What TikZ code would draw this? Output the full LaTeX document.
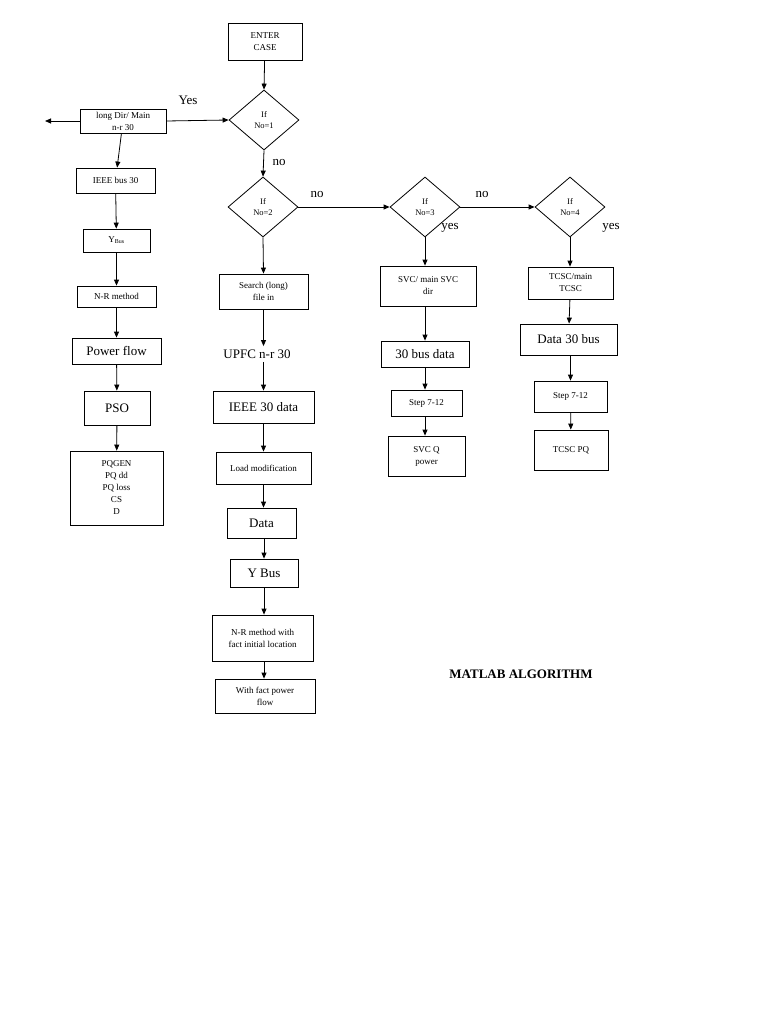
\documentclass[tikz,border=0pt]{standalone}
\usepackage{fontspec}
\setmainfont{Liberation Serif}
\usetikzlibrary{shapes.geometric,arrows.meta}
\begin{document}
\begin{tikzpicture}[x=1pt,y=-1pt,
  box/.style={draw,line width=0.8pt,inner sep=0pt,align=center},
  sm/.style={font=\fontsize{9}{12}\selectfont},
  bg/.style={font=\fontsize{13}{15}\selectfont},
  dia/.style={draw,diamond,line width=0.8pt,minimum width=70pt,minimum height=60pt,inner sep=0pt,align=center,font=\fontsize{8.5}{11}\selectfont},
  ar/.style={-{Triangle[length=6pt,width=5pt]},line width=0.8pt},
  lb/.style={font=\fontsize{13}{15}\selectfont}]
\useasboundingbox (0,0) rectangle (768,1024);
\newcommand{\bx}[5]{\node[box,#5,minimum width=#3pt,minimum height=#4pt] (#1) at (#2) {};}
% boxes: name, center, w, h
\node[box,sm,minimum width=74pt,minimum height=37pt] (enter) at (265,41.5) {ENTER\\CASE};
\node[dia] (d1) at (264,120) {If\\No=1};
\node[dia] (d2) at (263,207) {If\\No=2};
\node[dia] (d3) at (425,207) {If\\No=3};
\node[dia] (d4) at (570,207) {If\\No=4};
\node[box,sm,minimum width=86pt,minimum height=24pt] (ld) at (123,121) {long Dir/ Main\\n-r 30};
\coordinate (lend) at (45,121);
\node[box,sm,minimum width=79pt,minimum height=25pt] (ieee) at (115.5,180.5) {IEEE bus 30};
\node[box,sm,minimum width=67pt,minimum height=23pt] (yb) at (116.5,240.5) {Y\textsubscript{\fontsize{6}{7}\selectfont Bus}};
\node[box,sm,minimum width=79pt,minimum height=21pt] (nr) at (116.5,296.5) {N-R method};
\node[box,bg,minimum width=89pt,minimum height=26pt] (pf) at (116.5,351) {Power flow};
\node[box,bg,minimum width=66pt,minimum height=34pt] (pso) at (117,408) {PSO};
\node[box,sm,minimum width=93pt,minimum height=74pt] (pq) at (116.5,488) {PQGEN\\PQ dd\\PQ loss\\CS\\D};
\node[box,sm,minimum width=89pt,minimum height=35pt] (srch) at (263.5,291.5) {Search (long)\\file in};
\node[lb] (upfc) at (257,354) {UPFC n-r 30};
\node[box,bg,minimum width=101pt,minimum height=32pt] (i30) at (263.5,407) {IEEE 30 data};
\node[box,sm,minimum width=95pt,minimum height=32pt] (lm) at (263.5,468) {Load modification};
\node[box,bg,minimum width=69pt,minimum height=30pt] (data) at (261.5,523) {Data};
\node[box,bg,minimum width=68pt,minimum height=28pt] (ybus) at (264,573) {Y Bus};
\node[box,sm,minimum width=101pt,minimum height=46pt] (nrf) at (262.5,638) {N-R method with\\fact initial location};
\node[box,sm,minimum width=100pt,minimum height=34pt] (wf) at (265,696) {With fact power\\flow};
\node[box,sm,minimum width=96pt,minimum height=40pt] (svc) at (428,286) {SVC/ main SVC\\dir};
\node[box,bg,minimum width=88pt,minimum height=26pt] (b30) at (425,354) {30 bus data};
\node[box,sm,minimum width=71pt,minimum height=26pt] (s1) at (426.5,403) {Step 7-12};
\node[box,sm,minimum width=77pt,minimum height=40pt] (svcq) at (426.5,456) {SVC Q\\power};
\node[box,sm,minimum width=85pt,minimum height=32pt] (tc) at (570.5,283) {TCSC/main\\TCSC};
\node[box,bg,minimum width=97pt,minimum height=31pt] (d30) at (568.5,339.5) {Data 30 bus};
\node[box,sm,minimum width=73pt,minimum height=31pt] (s2) at (570.5,396.5) {Step 7-12};
\node[box,sm,minimum width=74pt,minimum height=40pt] (tpq) at (571,450) {TCSC PQ};
\node[font=\fontsize{13}{15}\selectfont\bfseries] (title) at (521,674) {MATLAB ALGORITHM};
% labels
\node[lb] (yes1) at (188,100) {Yes};
\node[lb] (no1) at (279,163) {no};
\node[lb] (no2) at (317,195) {no};
\node[lb] (no3) at (482,195) {no};
\node[lb] (yes3) at (450,228) {yes};
\node[lb] (yes4) at (611,228) {yes};
% arrows
\draw[ar] (enter) -- (d1.north);
\draw[ar] (ld.east) -- (d1.west);
\draw[ar] (ld.west) -- (lend);
\draw[ar] (ld) -- (ieee);
\draw[ar] (ieee) -- (yb);
\draw[ar] (yb) -- (nr);
\draw[ar] (nr) -- (pf);
\draw[ar] (pf) -- (pso);
\draw[ar] (pso) -- (pq);
\draw[ar] (d1.south) -- (d2.north);
\draw[ar] (d2.east) -- (d3.west);
\draw[ar] (d3.east) -- (d4.west);
\draw[ar] (d2.south) -- (srch.north);
\draw[ar] (srch.south) -- (upfc.north-|srch.south);
\draw[ar] (upfc.south-|i30.north) -- (i30.north);
\draw[ar] (i30) -- (lm);
\draw[ar] (lm.south) -- (data.north-|lm.south);
\draw[ar] (data.south-|ybus.north) -- (ybus.north);
\draw[ar] (ybus.south) -- (nrf.north-|ybus.south);
\draw[ar] (nrf.south-|ybus.south) -- (wf.north-|ybus.south);
\draw[ar] (d3.south) -- (d3.south|-svc.north);
\draw[ar] (d3.south|-svc.south) -- (d3.south|-b30.north);
\draw[ar] (d3.south|-b30.south) -- (d3.south|-s1.north);
\draw[ar] (d3.south|-s1.south) -- (d3.south|-svcq.north);
\draw[ar] (d4.south) -- (d4.south|-tc.north);
\draw[ar] (tc) -- (d30);
\draw[ar] (d30.south-|s2.north) -- (s2.north);
\draw[ar] (s2) -- (tpq);
\end{tikzpicture}
\end{document}
